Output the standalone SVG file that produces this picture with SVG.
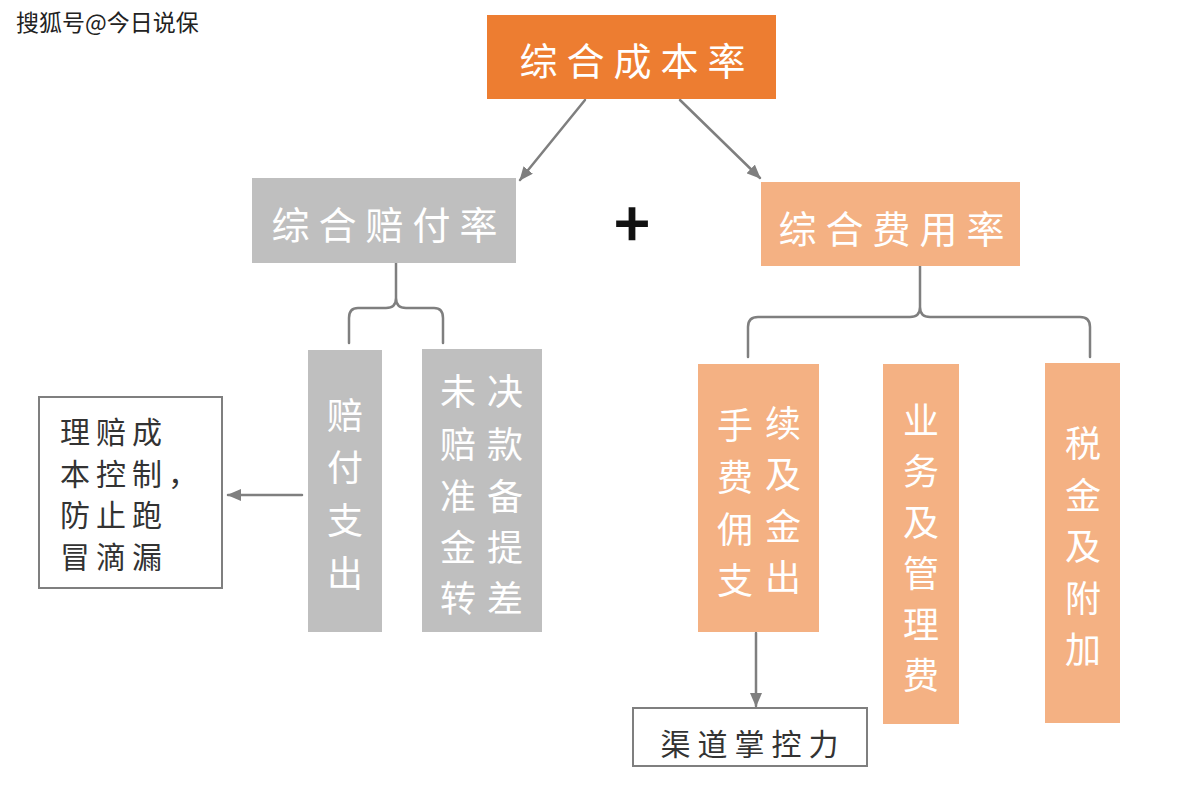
<svg xmlns="http://www.w3.org/2000/svg" width="1194" height="795" viewBox="0 0 1194 795">
<style>
.t{font-family:"Noto Sans CJK SC","Noto Sans",sans-serif;}
.w{fill:#ffffff;}
.d{fill:#333333;}
.ln{fill:none;stroke:#7f7f7f;stroke-width:2.5;stroke-linecap:round;stroke-linejoin:round;}
.big{font-size:38px;letter-spacing:9px;text-anchor:middle;dominant-baseline:central;}
.v{font-size:36px;text-anchor:middle;dominant-baseline:central;}
.box{stroke:#7f7f7f;stroke-width:2;fill:#ffffff;}
</style>
<defs>
<marker id="ah" markerUnits="userSpaceOnUse" viewBox="0 0 14 12" markerWidth="14" markerHeight="12" refX="13" refY="6" orient="auto">
<path d="M0,0 L14,6 L0,12 z" fill="#7f7f7f"/>
</marker>
</defs>
<rect width="1194" height="795" fill="#ffffff"/>
<text class="t" x="16" y="31" font-size="23" fill="#222222">搜狐号@今日说保</text>

<g id="connectors">
<line class="ln" x1="585" y1="100" x2="520" y2="180" marker-end="url(#ah)"/>
<line class="ln" x1="680" y1="100" x2="760" y2="178" marker-end="url(#ah)"/>
<path class="ln" d="M396,263 L396,298 Q396,308 386,308 L358,308 Q349,308 349,318 L349,343 M396,298 Q396,308 406,308 L434,308 Q443,308 443,318 L443,343"/>
<path class="ln" d="M920,266 L920,307 Q920,317 910,317 L758,317 Q748,317 748,327 L748,357 M920,307 Q920,317 930,317 L1080,317 Q1090,317 1090,327 L1090,357"/>
<line class="ln" x1="302" y1="495" x2="228" y2="495" marker-end="url(#ah)"/>
<line class="ln" x1="756" y1="633" x2="756" y2="706" marker-end="url(#ah)"/>
</g>

<g id="total">
<rect x="487" y="15" width="289" height="84" fill="#ED7D31"/>
<text class="t w big" x="637" y="58">综合成本率</text>
</g>

<g id="claims-ratio">
<rect x="252" y="178" width="264" height="85" fill="#BFBFBF"/>
<text class="t w big" x="389" y="222">综合赔付率</text>
</g>

<g id="plus">
<text class="t" x="632" y="220" font-size="62" font-weight="bold" fill="#111111" text-anchor="middle" dominant-baseline="central">+</text>
</g>

<g id="expense-ratio">
<rect x="761" y="182" width="259" height="84" fill="#F4B183"/>
<text class="t w big" x="896" y="226">综合费用率</text>
</g>

<g id="claims-paid">
<rect x="308" y="350" width="74" height="282" fill="#BFBFBF"/>
<text class="t w v" x="345" y="413">赔</text>
<text class="t w v" x="345" y="465">付</text>
<text class="t w v" x="345" y="518">支</text>
<text class="t w v" x="345" y="571">出</text>
</g>

<g id="reserve">
<rect x="422" y="349" width="120" height="283" fill="#BFBFBF"/>
<text class="t w v" x="458" y="389">未</text>
<text class="t w v" x="505" y="389">决</text>
<text class="t w v" x="458" y="442">赔</text>
<text class="t w v" x="505" y="442">款</text>
<text class="t w v" x="458" y="494">准</text>
<text class="t w v" x="505" y="494">备</text>
<text class="t w v" x="458" y="545">金</text>
<text class="t w v" x="505" y="545">提</text>
<text class="t w v" x="458" y="596">转</text>
<text class="t w v" x="505" y="596">差</text>
</g>

<g id="claims-control">
<rect class="box" x="39" y="397" width="183" height="191"/>
<text class="t d" font-size="30" letter-spacing="6" dominant-baseline="central">
<tspan x="60" y="430">理赔成</tspan>
<tspan x="60" y="472">本控制，</tspan>
<tspan x="60" y="513">防止跑</tspan>
<tspan x="60" y="555">冒滴漏</tspan>
</text>
</g>

<g id="commission">
<rect x="698" y="364" width="121" height="268" fill="#F4B183"/>
<text class="t w v" x="735" y="423">手</text>
<text class="t w v" x="783" y="421">续</text>
<text class="t w v" x="735" y="475">费</text>
<text class="t w v" x="783" y="472">及</text>
<text class="t w v" x="735" y="527">佣</text>
<text class="t w v" x="783" y="524">金</text>
<text class="t w v" x="735" y="578">支</text>
<text class="t w v" x="783" y="575">出</text>
</g>

<g id="admin">
<rect x="883" y="364" width="76" height="360" fill="#F4B183"/>
<text class="t w v" x="921" y="418">业</text>
<text class="t w v" x="921" y="469">务</text>
<text class="t w v" x="921" y="520">及</text>
<text class="t w v" x="921" y="571">管</text>
<text class="t w v" x="921" y="622">理</text>
<text class="t w v" x="921" y="673">费</text>
</g>

<g id="tax">
<rect x="1045" y="363" width="75" height="360" fill="#F4B183"/>
<text class="t w v" x="1083" y="441">税</text>
<text class="t w v" x="1083" y="493">金</text>
<text class="t w v" x="1083" y="544">及</text>
<text class="t w v" x="1083" y="596">附</text>
<text class="t w v" x="1083" y="647">加</text>
</g>

<g id="channel">
<rect class="box" x="633" y="708" width="234" height="58"/>
<text class="t d" x="753" y="742" font-size="30" letter-spacing="7" text-anchor="middle" dominant-baseline="central">渠道掌控力</text>
</g>
</svg>
